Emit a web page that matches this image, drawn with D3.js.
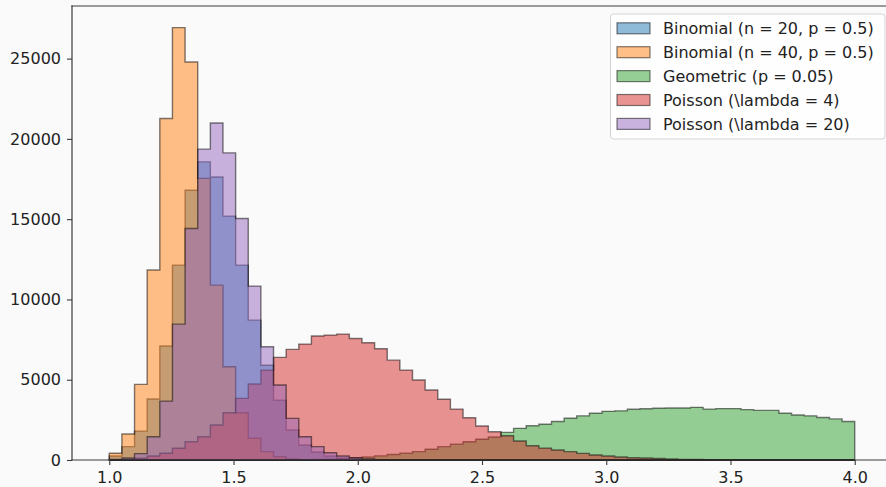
<!DOCTYPE html>
<html>
<head>
<meta charset="utf-8">
<script src="https://cdn.jsdelivr.net/npm/d3@7"></script>
<style>
    html, body { margin: 0; padding: 0; background: #fafafa; overflow: hidden; }
    svg { display: block; font-family: "DejaVu Sans", sans-serif; }
</style>
</head>
<body>
<div id="chart"></div>
<script>
// 59 equal bins between 1 and 4
const binStart = 1, binEnd = 4, binCount = 59;

const binomial20 = [
    250, 830, 1800, 3800, 7100, 12140, 16800, 18570, 17630, 15190,
    12140, 8710, 5900, 3730, 1870, 930, 500, 250, 120, 60,
    20, 0, 0, 0, 0, 0, 0, 0, 0, 0,
    0, 0, 0, 0, 0, 0, 0, 0, 0, 0,
    0, 0, 0, 0, 0, 0, 0, 0, 0, 0,
    0, 0, 0, 0, 0, 0, 0, 0, 0
];
const binomial40 = [
    420, 1620, 4710, 11830, 21270, 26930, 24790, 17540, 10890, 5810,
    2940, 1350, 520, 200, 60, 20, 0, 0, 0, 0,
    0, 0, 0, 0, 0, 0, 0, 0, 0, 0,
    0, 0, 0, 0, 0, 0, 0, 0, 0, 0,
    0, 0, 0, 0, 0, 0, 0, 0, 0, 0,
    0, 0, 0, 0, 0, 0, 0, 0, 0
];
const geometric = [
    0, 0, 0, 0, 0, 0, 0, 0, 0, 0,
    0, 0, 5, 10, 15, 20, 35, 50, 80, 140,
    190, 260, 340, 430, 520, 670, 830, 990, 1140, 1290,
    1430, 1720, 1970, 2130, 2230, 2400, 2600, 2750, 2910, 3030,
    3060, 3160, 3190, 3220, 3240, 3240, 3280, 3170, 3200, 3200,
    3140, 3090, 3090, 2910, 2800, 2750, 2650, 2560, 2400
];
const poisson4 = [
    0, 30, 105, 250, 420, 730, 1140, 1450, 2180, 2940,
    3840, 4730, 5600, 6390, 6890, 7220, 7720, 7780, 7840, 7570,
    7300, 6930, 6220, 5600, 4980, 4360, 3780, 3170, 2630, 2120,
    1760, 1510, 1180, 890, 740, 620, 520, 410, 310, 250,
    190, 140, 120, 90, 60, 40, 30, 20, 10, 10,
    0, 0, 0, 0, 0, 0, 0, 0, 0
];
const poisson20 = [
    30, 120, 400, 1450, 3670, 8460, 14420, 19360, 20990, 19130,
    15040, 10830, 7050, 4670, 2590, 1450, 830, 450, 250, 140,
    60, 20, 0, 0, 0, 0, 0, 0, 0, 0,
    0, 0, 0, 0, 0, 0, 0, 0, 0, 0,
    0, 0, 0, 0, 0, 0, 0, 0, 0, 0,
    0, 0, 0, 0, 0, 0, 0, 0, 0
];

const seriesNames = [
    "Binomial (n = 20, p = 0.5)",
    "Binomial (n = 40, p = 0.5)",
    "Geometric (p = 0.05)",
    "Poisson (\\lambda = 4)",
    "Poisson (\\lambda = 20)"
];
const seriesColors = ["#1f77b4", "#ff7f0e", "#2ca02c", "#d62728", "#9467bd"];
const seriesCounts = [binomial20, binomial40, geometric, poisson4, poisson20];

const xTicks = [1.0, 1.5, 2.0, 2.5, 3.0, 3.5, 4.0];
const yTicks = [0, 5000, 10000, 15000, 20000, 25000];

const width = 886, height = 487;
const plot = { left: 72, right: 892, top: 6, bottom: 460 };

const svg = d3.select("#chart")
    .append("svg")
    .attr("width", width)
    .attr("height", height);

svg.append("rect")
    .attr("width", width)
    .attr("height", height)
    .attr("fill", "#fafafa");

const x = d3.scaleLinear()
    .domain([0.85, 4.15])
    .range([plot.left, plot.right]);

const yMax = d3.max(seriesCounts, s => d3.max(s)) * 1.05;
const y = d3.scaleLinear()
    .domain([0, yMax])
    .range([plot.bottom, plot.top]);

const edges = d3.range(binCount + 1).map(i => binStart + i * (binEnd - binStart) / binCount);

function stepPath(counts) {
    const p = d3.path();
    p.moveTo(x(edges[0]), y(0));
    counts.forEach((c, i) => {
        p.lineTo(x(edges[i]), y(c));
        p.lineTo(x(edges[i + 1]), y(c));
    });
    p.lineTo(x(edges[counts.length]), y(0));
    p.closePath();
    return p.toString();
}

const series = seriesNames.map((name, i) => ({
    name: name,
    color: seriesColors[i],
    counts: seriesCounts[i]
}));

svg.selectAll("path.hist")
    .data(series)
    .join("path")
    .attr("class", "hist")
    .attr("d", d => stepPath(d.counts))
    .attr("fill", d => d.color)
    .attr("fill-opacity", 0.5)
    .attr("stroke", "#000")
    .attr("stroke-opacity", 0.5)
    .attr("stroke-width", 1.4)
    .attr("stroke-linejoin", "miter");

// spines
const spineColor = "#3a3a3a";
svg.append("g")
    .selectAll("line")
    .data([
        [plot.left, plot.top, plot.left, plot.bottom],
        [plot.left, plot.top, plot.right, plot.top],
        [plot.left, plot.bottom, plot.right, plot.bottom],
        [plot.right, plot.top, plot.right, plot.bottom]
    ])
    .join("line")
    .attr("x1", d => d[0])
    .attr("y1", d => d[1])
    .attr("x2", d => d[2])
    .attr("y2", d => d[3])
    .attr("stroke", spineColor)
    .attr("stroke-width", 1.2)
    .attr("stroke-linecap", "square");

const yAxis = svg.append("g")
    .attr("transform", `translate(${plot.left},0)`)
    .call(d3.axisLeft(y).tickValues(yTicks).tickFormat(d3.format("d")).tickSize(5).tickPadding(6));

const xAxis = svg.append("g")
    .attr("transform", `translate(0,${plot.bottom})`)
    .call(d3.axisBottom(x).tickValues(xTicks).tickFormat(d3.format(".1f")).tickSize(5).tickPadding(7));

[yAxis, xAxis].forEach(ax => {
    ax.select(".domain").remove();
    ax.selectAll(".tick line").attr("stroke", spineColor).attr("stroke-width", 1.1);
    ax.selectAll(".tick text")
        .attr("fill", "#222")
        .style("font-size", "16px")
        .style("font-family", "DejaVu Sans, sans-serif");
});

// legend
const legend = svg.append("g")
    .attr("class", "legend")
    .attr("transform", "translate(610.5,14)");

legend.append("rect")
    .attr("width", 274.5)
    .attr("height", 125)
    .attr("rx", 3)
    .attr("fill", "#fff")
    .attr("fill-opacity", 0.8)
    .attr("stroke", "#d4d4d4")
    .attr("stroke-width", 1);

legend.selectAll("rect.swatch")
    .data(series)
    .join("rect")
    .attr("class", "swatch")
    .attr("x", 6.5)
    .attr("y", (d, i) => 8.8 + i * 23.9)
    .attr("width", 33)
    .attr("height", 11)
    .attr("fill", d => d.color)
    .attr("fill-opacity", 0.5)
    .attr("stroke", "#000")
    .attr("stroke-opacity", 0.5)
    .attr("stroke-width", 1.2);

legend.selectAll("text")
    .data(series)
    .join("text")
    .attr("x", 52.5)
    .attr("y", (d, i) => 14.3 + i * 23.9 + 5.8)
    .attr("fill", "#222")
    .style("font-size", "16px")
    .text(d => d.name);
</script>
</body>
</html>
